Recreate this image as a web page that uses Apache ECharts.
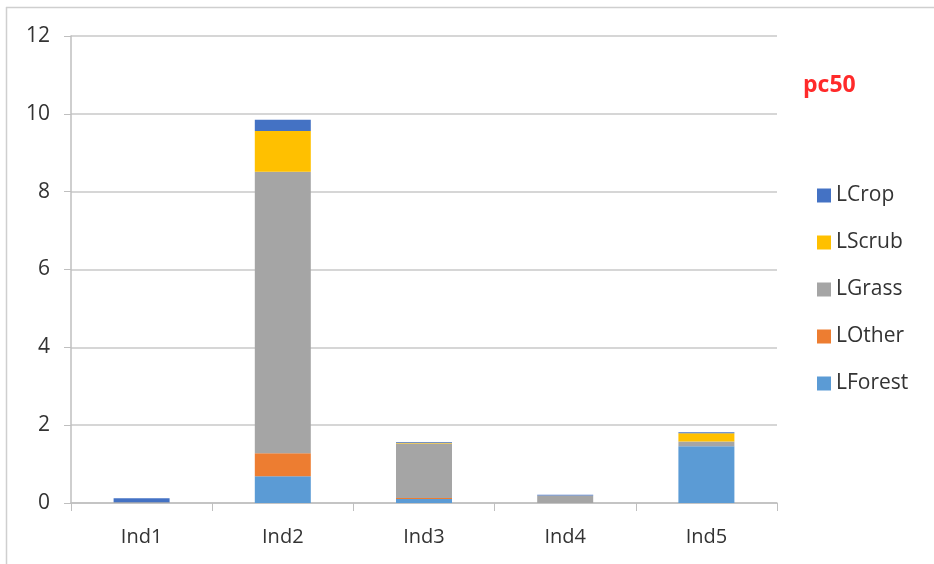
<!DOCTYPE html>
<html><head><meta charset="utf-8">
<script src="https://cdn.jsdelivr.net/npm/echarts@6/dist/echarts.min.js"></script>
<style>html,body{margin:0;padding:0;background:#fff}#c{width:934px;height:564px}</style>
</head><body><div id="c"></div>
<script>
const categories = ['Ind1','Ind2','Ind3','Ind4','Ind5'];
const LForest = [0, 0.69, 0.10, 0, 1.46];
const LOther  = [0, 0.59, 0.03, 0, 0];
const LGrass  = [0.02, 7.23, 1.40, 0.19, 0.12];
const LScrub  = [0, 1.05, 0.02, 0, 0.21];
const LCrop   = [0.10, 0.29, 0.02, 0.02, 0.03];
const yTicks = [0, 2, 4, 6, 8, 10, 12];
const legendOrder = ['LCrop','LScrub','LGrass','LOther','LForest'];

const seriesDefs = [
  ['LForest', LForest, '#5B9BD5'],
  ['LOther', LOther, '#ED7D31'],
  ['LGrass', LGrass, '#A5A5A5'],
  ['LScrub', LScrub, '#FFC000'],
  ['LCrop', LCrop, '#4472C4']
];
const font = '"Open Sans", "Noto Sans", sans-serif';
const chart = echarts.init(document.getElementById('c'));
chart.setOption({
  animation: false,
  backgroundColor: '#fff',
  title: {
    text: 'pc50', left: 798, top: 69,
    textStyle: {color: '#FF2A2A', fontSize: 23, fontWeight: 'bold', fontFamily: font}
  },
  legend: {
    data: legendOrder, orient: 'vertical', left: 812, top: 180,
    itemWidth: 14, itemHeight: 14, itemGap: 26,
    textStyle: {color: '#333', fontSize: 21, fontFamily: font},
    icon: 'rect'
  },
  grid: {left: 71, right: 157, top: 36, bottom: 61},
  xAxis: {
    type: 'category', data: categories,
    axisLine: {lineStyle: {color: '#BFBFBF', width: 1.5}},
    axisTick: {show: true, length: 8, alignWithLabel: false, lineStyle: {color: '#BFBFBF'}},
    axisLabel: {color: '#333', fontSize: 20, fontFamily: font, margin: 24}
  },
  yAxis: {
    type: 'value', min: yTicks[0], max: yTicks[yTicks.length-1], interval: 2,
    axisLine: {show: true, lineStyle: {color: '#BFBFBF', width: 1.5}},
    axisTick: {show: true, length: 7, lineStyle: {color: '#BFBFBF'}},
    splitLine: {lineStyle: {color: '#C8C8C8', width: 1.5}},
    axisLabel: {color: '#333', fontSize: 21, fontFamily: font, margin: 21}
  },
  series: seriesDefs.map(([name, data, color]) => ({
    name, type: 'bar', stack: 'total', data, barWidth: 56,
    itemStyle: {color}
  })),
  graphic: [
    {type: 'line', shape: {x1: 6, y1: 7.5, x2: 934, y2: 7.5}, style: {stroke: '#CFCFCF', lineWidth: 1.5}},
    {type: 'line', shape: {x1: 6.5, y1: 7, x2: 6.5, y2: 564}, style: {stroke: '#CFCFCF', lineWidth: 1.5}}
  ]
});
</script></body></html>
